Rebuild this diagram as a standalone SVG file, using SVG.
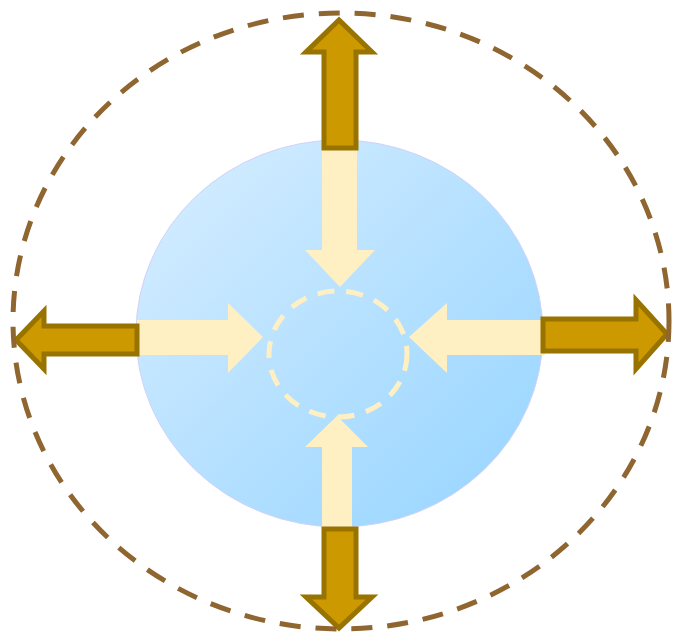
<svg xmlns="http://www.w3.org/2000/svg" width="673" height="635" viewBox="0 0 673 635">
<defs>
<linearGradient id="blue" x1="0" y1="0" x2="1" y2="1">
<stop offset="0" stop-color="#d8eeff"/>
<stop offset="1" stop-color="#95d4ff"/>
</linearGradient>
<style>
.cream{fill:#fff0c4;stroke:none}
.gold{fill:#cc9900;stroke:#997300;stroke-width:5;stroke-linejoin:miter}
</style>
</defs>
<g id="core">
<ellipse cx="339.5" cy="333.5" rx="203.5" ry="193.5" fill="url(#blue)" stroke="#d0d2fa" stroke-width="1"/>
</g>
<g id="connectors">
<polygon class="cream" points="322,150 357,150 357,250 375,250 340,287 305,250 322,250"/>
<polygon class="cream" points="137,320 228,320 228,303 263,337 228,373 228,355 137,355"/>
<polygon class="cream" points="545,320 447,320 447,303 409,337 447,373 447,355 545,355"/>
<polygon class="cream" points="322,530 322,447 305,447 337,416 368,447 352,447 352,530"/>
<polygon class="gold" points="324,148 324,52 306,52 339,20 372,52 356,52 356,148"/>
<polygon class="gold" points="137,326 44,326 44,311 16,340 44,369 44,354 137,354"/>
<polygon class="gold" points="543,319 636,319 636,300 667,334 636,369 636,351 543,351"/>
<polygon class="gold" points="324,529 324,597 306,597 339,628 372,597 356,597 356,529"/>
</g>
<g id="inner">
<ellipse cx="338" cy="354" rx="69" ry="63" fill="none" stroke="#fff0c4" stroke-width="5" stroke-dasharray="17 12"/>
</g>
<g id="outer">
<ellipse cx="341" cy="321" rx="328" ry="308" fill="none" stroke="#8f6530" stroke-width="5" stroke-dasharray="21 15"/>
</g>
</svg>
